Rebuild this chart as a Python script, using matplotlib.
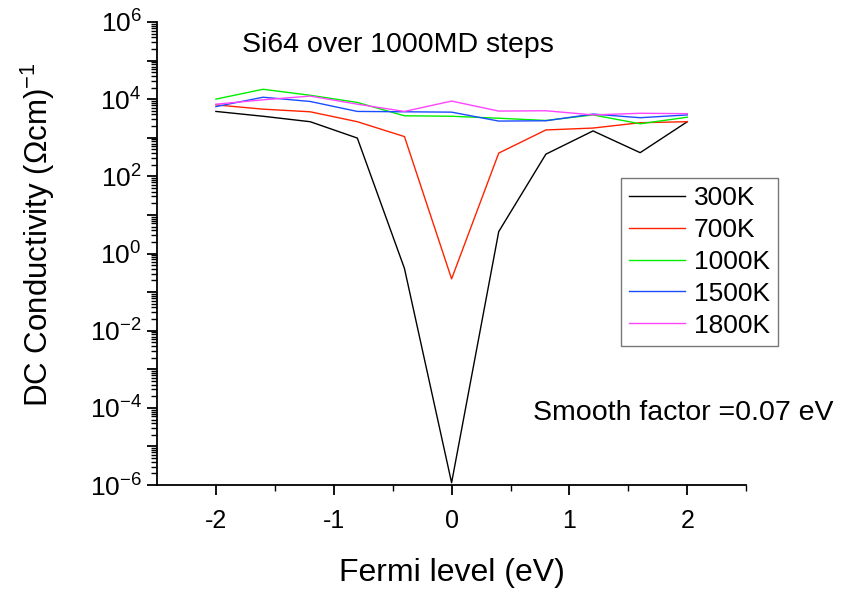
import numpy as np
import matplotlib
matplotlib.use('Agg')
import matplotlib.pyplot as plt
from matplotlib.ticker import LogLocator, FixedLocator, FuncFormatter, NullFormatter

plt.rcParams['font.family'] = ['Liberation Sans', 'DejaVu Sans']
plt.rcParams['mathtext.default'] = 'regular'

# Fermi level positions (eV)
fermi = [-2.0, -1.6, -1.2, -0.8, -0.4, 0.0, 0.4, 0.8, 1.2, 1.6, 2.0]

# DC conductivity (Ohm cm)^-1 for each temperature
sig_300 = [4800, 3600, 2600, 980, 0.41, 1.15e-6, 3.7, 375, 1500, 410, 2600]
sig_700 = [7100, 5500, 4700, 2600, 1070, 0.22, 400, 1590, 1780, 2450, 2600]
sig_1000 = [10000, 18000, 12600, 8200, 3700, 3600, 3200, 2800, 3900, 2300, 3400]
sig_1500 = [6400, 11200, 8700, 4800, 4700, 4600, 2700, 2750, 4100, 3300, 3900]
sig_1800 = [7400, 9600, 12000, 7400, 4800, 8900, 4900, 5000, 3900, 4300, 4200]

labels = ['300K', '700K', '1000K', '1500K', '1800K']
colors = ['#000000', '#ff2200', '#00ee00', '#1a4dff', '#ff44ff']

fig = plt.figure(figsize=(8.43, 5.93), dpi=100)
ax = fig.add_axes([0.1862, 0.182, 0.699, 0.781])

for ys, lab, col in zip([sig_300, sig_700, sig_1000, sig_1500, sig_1800], labels, colors):
    ax.plot(fermi, ys, color=col, lw=1.0, label=lab)

ax.set_yscale('log')
ax.set_ylim(1e-6, 1e6)
ax.set_xlim(-2.5, 2.5)

# only left and bottom axes, like the original
ax.spines['top'].set_visible(False)
ax.spines['right'].set_visible(False)
ax.spines['left'].set_linewidth(1.3)
ax.spines['bottom'].set_linewidth(1.3)

ax.xaxis.set_major_locator(FixedLocator([-2, -1, 0, 1, 2]))
ax.xaxis.set_minor_locator(FixedLocator([-1.5, -0.5, 0.5, 1.5, 2.5]))
ax.xaxis.set_major_formatter(FuncFormatter(lambda v, p: '%d' % v))

ax.yaxis.set_major_locator(LogLocator(base=10, numticks=20))
ax.yaxis.set_minor_locator(LogLocator(base=10, subs=np.arange(2, 10), numticks=20))
ax.yaxis.set_minor_formatter(NullFormatter())


def ylab(v, p):
    e = int(round(np.log10(v)))
    if e % 2:
        return ''
    return r'$10^{%d}$' % e


ax.yaxis.set_major_formatter(FuncFormatter(ylab))

ax.tick_params(axis='both', which='major', direction='out', length=7, width=1.3, labelsize=19)
ax.tick_params(axis='both', which='minor', direction='out', length=4, width=1.0)
ax.tick_params(axis='x', labelsize=18, pad=10)
ax.tick_params(axis='y', pad=4)

ax.set_xlabel('Fermi level (eV)', fontsize=23, labelpad=18)
ax.set_ylabel(r'DC Conductivity ($\Omega$cm)$^{-1}$', fontsize=22.5)
ax.yaxis.set_label_coords(-0.170, 0.54)

ax.text(0.144, 0.950, 'Si64 over 1000MD steps', transform=ax.transAxes,
        fontsize=20.5, va='center', ha='left')
ax.text(0.638, 0.155, 'Smooth factor =0.07 eV', transform=ax.transAxes,
        fontsize=20.5, va='center', ha='left', clip_on=False)

leg = ax.legend(loc='upper left', bbox_to_anchor=(0.788, 0.663), fontsize=19,
                frameon=True, fancybox=False, edgecolor='#555555',
                handlelength=2.1, labelspacing=0.3, borderpad=0.3,
                handletextpad=0.34, borderaxespad=0)
leg.get_frame().set_linewidth(1.0)

fig.savefig('out.png', dpi=100)
